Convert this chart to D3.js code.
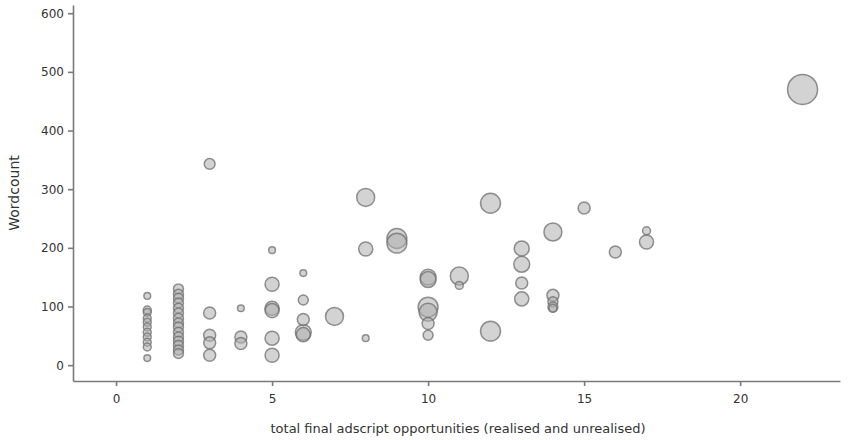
<!DOCTYPE html>
<html>
<head>
<meta charset="utf-8">
<script src="https://cdn.jsdelivr.net/npm/d3@7"></script>
<style>
  body { margin: 0; background: #fff; }
  svg text { font-family: "DejaVu Sans", Verdana, sans-serif; }
</style>
</head>
<body>
<main></main>
<script>
// data: x = opportunities, y = wordcount, size = bubble weight
let opportunities = [
    1, 1, 1, 1, 1, 1, 1, 1, 1, 1, 1,
    2, 2, 2, 2, 2, 2, 2, 2, 2, 2, 2, 2, 2, 2, 2,
    3, 3, 3, 3, 3,
    4, 4, 4,
    5, 5, 5, 5, 5, 5,
    6, 6, 6, 6, 6,
    7,
    8, 8, 8,
    9, 9,
    10, 10, 10, 10, 10, 10,
    11, 11,
    12, 12,
    13, 13, 13, 13,
    14, 14, 14, 14, 14,
    15,
    16,
    17, 17,
    22
]
let wordcount = [
    118, 94, 90, 80, 73, 65, 56, 48, 39, 31, 12,
    130, 121, 114, 106, 97, 89, 80, 72, 65, 56, 48, 41, 34, 26, 20,
    343, 89, 51, 38, 17,
    97, 48, 37,
    196, 138, 97, 93, 46, 17,
    157, 111, 78, 56, 52,
    83,
    286, 198, 46,
    216, 208,
    150, 146, 99, 90, 71, 51,
    152, 136,
    276, 58,
    199, 172, 140, 113,
    227, 119, 108, 99, 97,
    268,
    193,
    229, 210,
    470
]
let bubbleSize = [
    5, 7, 7, 7, 7, 7, 7, 7, 7, 7, 5,
    11, 11, 11, 11, 11, 11, 11, 11, 11, 11, 11, 11, 11, 11, 11,
    13, 16, 16, 16, 16,
    5, 16, 16,
    5, 22, 22, 22, 22, 22,
    5, 11, 16, 28, 22,
    36,
    36, 22, 5,
    44, 44,
    28, 28, 44, 36, 16, 11,
    36, 7,
    44, 44,
    25, 28, 16, 22,
    36, 16, 11, 11, 7,
    16,
    16,
    7, 22,
    100
]
let xTicks = [0, 5, 10, 15, 20]
let yTicks = [0, 100, 200, 300, 400, 500, 600]

let points = opportunities.map(function (d, i) {
    return { x: d, y: wordcount[i], s: bubbleSize[i] }
})

let svg = d3.select("main")
    .append("svg")
    .attr("width", 854)
    .attr("height", 440)

let x = d3.scaleLinear().domain([-1.38, 23.2]).range([73, 840])
let y = d3.scaleLinear().domain([-27, 614]).range([381, 5])
let r = d3.scaleSqrt().domain([0, 100]).range([0, 15])

let xAxis = svg.append("g")
    .attr("transform", "translate(0,381)")
    .call(d3.axisBottom(x).tickValues(xTicks).tickSize(5).tickSizeOuter(0).tickPadding(8))

let yAxis = svg.append("g")
    .attr("transform", "translate(73,0)")
    .call(d3.axisLeft(y).tickValues(yTicks).tickSize(5).tickSizeOuter(0).tickPadding(4))

svg.selectAll(".domain, .tick line")
    .attr("stroke", "#7a7a7a")
    .attr("stroke-width", 1.6)

svg.selectAll(".tick text")
    .attr("fill", "#333")
    .style("font-size", "12px")

// bubbles, biggest first so small ones stay visible
svg.append("g")
    .selectAll("circle")
    .data(points.slice().sort(function (a, b) { return b.s - a.s }))
    .enter()
    .append("circle")
    .attr("cx", function (d) { return x(d.x) })
    .attr("cy", function (d) { return y(d.y) })
    .attr("r", function (d) { return r(d.s) })
    .style("fill", "rgb(175,175,175)")
    .style("fill-opacity", 0.55)
    .style("stroke", "rgb(110,110,110)")
    .style("stroke-opacity", 0.75)
    .style("stroke-width", 1.5)

svg.append("text")
    .attr("x", 458)
    .attr("y", 433)
    .attr("text-anchor", "middle")
    .attr("fill", "#333")
    .style("font-size", "13px")
    .text("total final adscript opportunities (realised and unrealised)")

svg.append("text")
    .attr("transform", "translate(19,193) rotate(-90)")
    .attr("text-anchor", "middle")
    .attr("fill", "#333")
    .style("font-size", "14px")
    .text("Wordcount")
</script>
</body>
</html>
